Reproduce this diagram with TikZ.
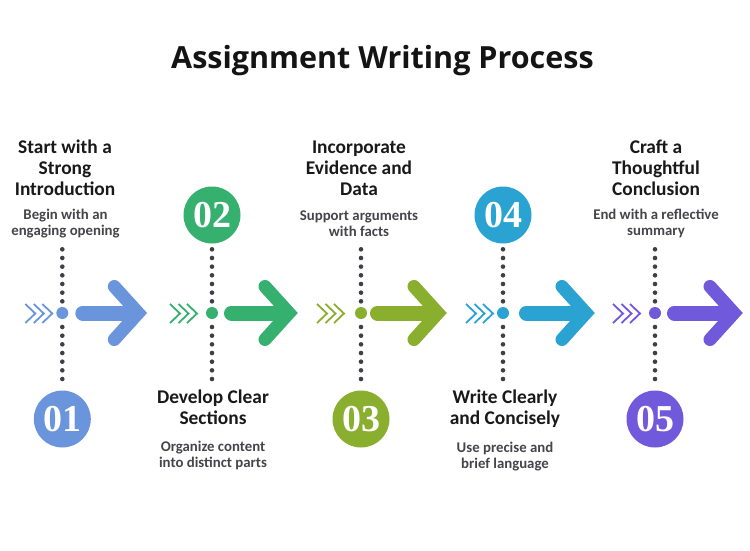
\documentclass[tikz,border=0pt]{standalone}
\usepackage{fontspec}
\setmainfont{Carlito}
\newfontfamily\titlefont{Open Sans}
\newfontfamily\numfont{Liberation Serif}
\definecolor{cA}{HTML}{6A95DD}
\definecolor{cB}{HTML}{35B06F}
\definecolor{cC}{HTML}{8AAE2E}
\definecolor{cD}{HTML}{2AA3D2}
\definecolor{cE}{HTML}{7159DC}
\definecolor{dotc}{HTML}{3F3F46}
\definecolor{subc}{HTML}{45454A}
\tikzset{
  x=1pt,y=-1pt,
  maintitle/.style={font=\titlefont\fontsize{30.5}{36}\selectfont\bfseries,text=black!92,inner sep=0pt},
  heading/.style={font=\fontsize{19.4}{21}\selectfont\bfseries,align=center,inner sep=0pt,text=black!90},
  desc/.style={font=\fontsize{14.8}{16}\selectfont\bfseries,align=center,inner sep=0pt,text=subc},
  numdisc/.style={circle,fill=#1,minimum size=57pt,inner sep=0pt,text=white,font=\numfont\fontsize{38}{38}\selectfont\bfseries},
  hub/.style={circle,fill=#1,minimum size=12pt,inner sep=0pt},
  dotline/.style={line width=4.6pt,line cap=round,dotc,dash pattern=on 0pt off 8.67pt},
  shaft/.style={line width=15pt,line cap=round,#1},
  arrowarm/.style={line width=13pt,line cap=round,line join=miter,#1},
  chev/.style={line width=1.8pt,#1},
}
\newcommand{\stepgroup}[6]{% id, x, colour, shaft start offset, tip offset, chevron tip offset
  \node[hub=#3] (hub#1) at (#2,313) {};
  \coordinate (up#1) at (#2,249.3);
  \coordinate (upend#1) at (#2,302);
  \coordinate (lo#1) at (#2,327);
  \coordinate (loend#1) at (#2,380);
  \draw[dotline] (up#1) -- (upend#1);
  \draw[dotline] (lo#1) -- (loend#1);
  \coordinate (sh#1) at (#2+#4+7.5,313);
  \coordinate (sx#1) at (#2+#5-12,313);
  \coordinate (tip#1) at (#2+#5-9,313);
  \coordinate (aa#1) at (#2+#5-33,286.5);
  \coordinate (ab#1) at (#2+#5-33,339.5);
  \draw[shaft=#3] (sh#1) -- (sx#1);
  \draw[arrowarm=#3] (aa#1) -- (tip#1) -- (ab#1);
  \foreach \d in {0,8.5,17}{
    \draw[chev=#3] (#2+#6-\d-10,304) -- (#2+#6-\d,313.5) -- (#2+#6-\d-10,323);
  }
}
\begin{document}
\begin{tikzpicture}
\useasboundingbox (0,0) rectangle (750,550);
\fill[white] (0,0) rectangle (750,550);
\node[maintitle] (title) at (382.5,61) {Assignment Writing Process};

\stepgroup{1}{62.3}{cA}{13}{85}{-10}
\stepgroup{2}{212}{cB}{12}{86}{-15}
\stepgroup{3}{361}{cC}{9}{86}{-17}
\stepgroup{4}{503}{cD}{16}{92}{-10}
\stepgroup{5}{655}{cE}{12}{88}{-15}

\node[numdisc=cA] (n1) at (62.3,419) {01};
\node[numdisc=cB] (n2) at (212,215) {02};
\node[numdisc=cC] (n3) at (361,419) {03};
\node[numdisc=cD] (n4) at (503,215) {04};
\node[numdisc=cE] (n5) at (655,419) {05};

\node[heading] (h1) at (65,168) {Start with a\\Strong\\Introduction};
\node[desc] (d1) at (65.5,223.5) {Begin with an\\engaging opening};
\node[heading] (h2) at (213,407) {Develop Clear\\Sections};
\node[desc] (d2) at (213,455.5) {Organize content\\into distinct parts};
\node[heading] (h3) at (359,168) {Incorporate\\Evidence and\\Data};
\node[desc] (d3) at (359,223.5) {Support arguments\\with facts};
\node[heading] (h4) at (505,408.5) {Write Clearly\\and Concisely};
\node[desc] (d4) at (505,456.5) {Use precise and\\brief language};
\node[heading] (h5) at (656,168) {Craft a\\Thoughtful\\Conclusion};
\node[desc] (d5) at (656,223.5) {End with a reflective\\summary};
\end{tikzpicture}
\end{document}
